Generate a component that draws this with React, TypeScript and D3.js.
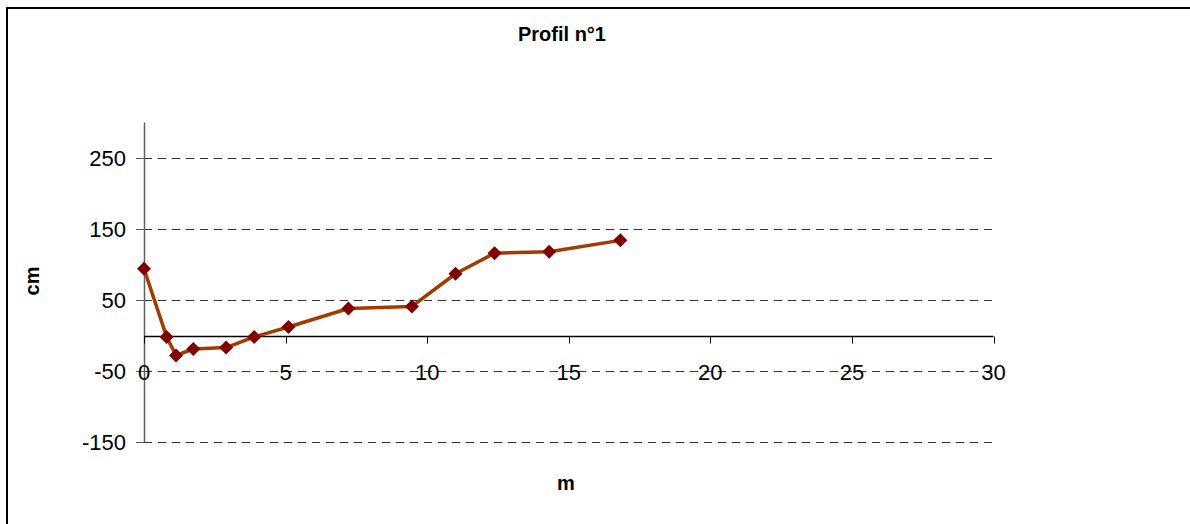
import React from "react";
import * as d3 from "d3";

const distances = [0, 0.8, 1.13, 1.74, 2.9, 3.89, 5.1, 7.22, 9.46, 11.0, 12.38, 14.31, 16.82];
const heights = [94, -2, -28, -19, -17, -2, 12, 38, 41, 87, 116, 118, 134];
const yTicks = [250, 150, 50, -50, -150];
const xTicks = [0, 5, 10, 15, 20, 25, 30];
const title = "Profil n°1";
const xLabel = "m";
const yLabel = "cm";

export default function App() {
  const W = 1190, H = 524;
  const x = d3.scaleLinear().domain([0, 30]).range([144, 993.5]);
  const y = d3.scaleLinear().domain([-150, 300]).range([442, 122.5]);
  const pts = distances.map((d, i) => [x(d), y(heights[i])] as [number, number]);
  const line = d3.line()(pts) || "";
  const font = "Arial, 'Liberation Sans', sans-serif";
  const y0 = Math.round(y(0)) + 0.5;
  const r = 7;
  return (
    <svg width={W} height={H} style={{ position: "absolute", left: 0, top: 0, background: "#fff" }} fontFamily={font}>
      <rect x={0} y={0} width={W} height={H} fill="#fff" />
      <rect x={7} y={8} width={W + 20} height={H + 20} fill="none" stroke="#000" strokeWidth={2} />
      <text x={562} y={41} textAnchor="middle" fontWeight="bold" fontSize={20}>{title}</text>
      {yTicks.map((t) => {
        const yy = Math.round(y(t)) + 0.5;
        return (
          <g key={"y" + t}>
            <line x1={x(0)} x2={x(30)} y1={yy} y2={yy} stroke="#333" strokeWidth={1} strokeDasharray="8,6" />
            <line x1={136} x2={144} y1={yy} y2={yy} stroke="#555" strokeWidth={1} />
            <text x={126} y={yy} textAnchor="end" dominantBaseline="central" fontSize={22}>{t}</text>
          </g>
        );
      })}
      <line x1={144.5} x2={144.5} y1={y(300)} y2={y(-150)} stroke="#606060" strokeWidth={1.5} />
      <line x1={x(0)} x2={x(30)} y1={y0} y2={y0} stroke="#000" strokeWidth={1.5} />
      {xTicks.map((t) => (
        <g key={"x" + t}>
          <line x1={Math.round(x(t)) + 0.5} x2={Math.round(x(t)) + 0.5} y1={y0} y2={y0 + 7} stroke="#000" strokeWidth={1} />
          <text x={x(t)} y={372} textAnchor="middle" dominantBaseline="central" fontSize={22}>{t}</text>
        </g>
      ))}
      <path d={line} fill="none" stroke="#A33A00" strokeWidth={3.5} strokeLinejoin="round" />
      {pts.map(([px, py], i) => (
        <path key={i} d={`M${px},${py - r}L${px + r},${py}L${px},${py + r}L${px - r},${py}Z`} fill="#800000" />
      ))}
      <text x={566} y={483} textAnchor="middle" dominantBaseline="central" fontWeight="bold" fontSize={20}>{xLabel}</text>
      <text transform="translate(32,281) rotate(-90)" textAnchor="middle" dominantBaseline="central" fontWeight="bold" fontSize={20}>{yLabel}</text>
    </svg>
  );
}
